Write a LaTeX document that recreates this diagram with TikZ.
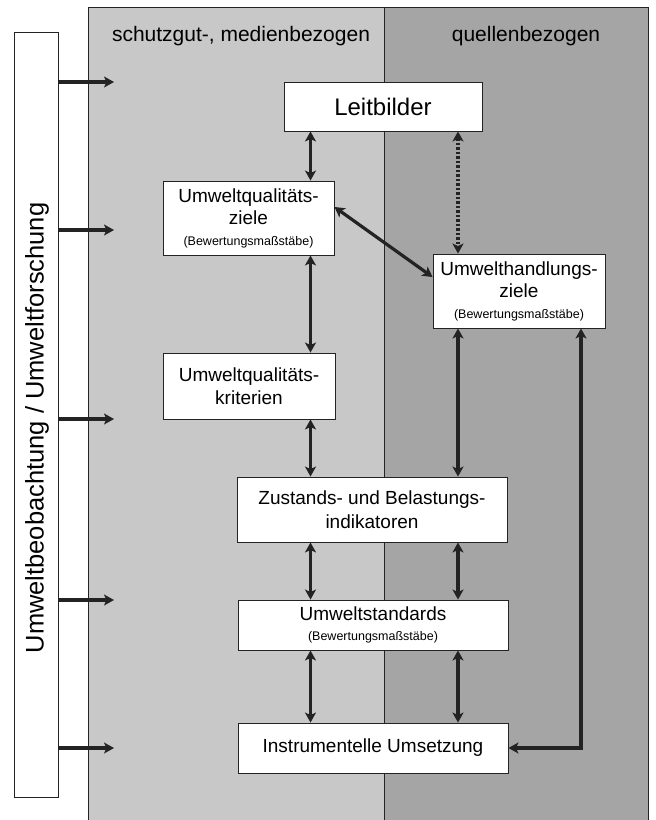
\documentclass[tikz,border=0pt]{standalone}
\usepackage{fontspec}
\setmainfont{Liberation Sans}
\usetikzlibrary{arrows.meta, calc}
\definecolor{panellight}{RGB}{200, 200, 200}
\definecolor{paneldark}{RGB}{165, 165, 165}
\definecolor{linegray}{RGB}{35, 35, 35}
\newcommand{\boxfont}{\fontsize{19}{22.5}\selectfont}
\newcommand{\notefont}{\fontsize{12.5}{14}\selectfont}
\newcommand{\headfont}{\fontsize{21}{25}\selectfont}
\newcommand{\leitfont}{\fontsize{24}{28}\selectfont}

\begin{document}
\begin{tikzpicture}[
    x=1pt, y=-1pt,
    box/.style={rectangle, draw=linegray, line width=0.9pt, fill=white, align=center, font=\boxfont, inner sep=0pt},
    arrow/.style={-{Stealth[length=10pt, width=11pt, inset=2.5pt]}, line width=3.2pt, draw=linegray},
    dblarrow/.style={{Stealth[length=10pt, width=11pt, inset=2.5pt]}-{Stealth[length=10pt, width=11pt, inset=2.5pt]}, line width=3.2pt, draw=linegray},
    dotarrow/.style={dblarrow, dash pattern=on 2.5pt off 2pt}
]
    \useasboundingbox (0,0) rectangle (656,820);

    % Background panels
    \fill[panellight] (88,7) rectangle (384,830);
    \fill[paneldark] (384,7) rectangle (648,830);
    \draw[linegray, line width=0.9pt] (88,830) -- (88,7) -- (648,7) -- (648,830);
    \draw[linegray, line width=0.9pt] (384,7) -- (384,830);

    \node[font=\headfont, anchor=base] (hleft) at (241,41) {schutzgut-, medienbezogen};
    \node[font=\headfont, anchor=base] (hright) at (526,41) {quellenbezogen};

    % Observation bar
    \node[box, minimum width=44, minimum height=765] (obs) at (36,414.5) {};
    \node[rotate=90, font=\fontsize{25.5}{30}\selectfont] (obslabel) at (37,428) {Umweltbeobachtung / Umweltforschung};

    \foreach \y [count=\i] in {82,230,419,600,748} {
        \coordinate (in\i) at (114,\y);
        \draw[arrow] (obs.east |- in\i) -- (in\i);
    }

    % Boxes
    \node[box, minimum width=198, minimum height=49, font=\leitfont] (leit) at (383,106.5) {Leitbilder};
    \node[box, minimum width=171, minimum height=74] (uqz) at (248.5,218) {Umweltqualitäts-\\ziele\\[-2pt]{\notefont(Bewertungsmaßstäbe)}};
    \node[box, minimum width=172, minimum height=74] (uhz) at (519,291) {Umwelthandlungs-\\ziele\\[-2pt]{\notefont(Bewertungsmaßstäbe)}};
    \node[box, minimum width=172, minimum height=66] (uqk) at (249,386) {Umweltqualitäts-\\kriterien};
    \node[box, minimum width=270, minimum height=65] (zbi) at (372,509.5) {Zustands- und Belastungs-\\[2pt]indikatoren};
    \node[box, minimum width=270, minimum height=50] (ust) at (373,625) {Umweltstandards\\[-3pt]{\notefont(Bewertungsmaßstäbe)}};
    \node[box, minimum width=270, minimum height=50] (ium) at (373,748) {Instrumentelle Umsetzung};

    % Connectors
    \coordinate (colA) at (310.5,0);
    \coordinate (colB) at (458,0);
    \coordinate (colC) at (581,0);

    \draw[dblarrow] (leit.south -| colA) -- (uqz.north -| colA);
    \draw[dotarrow] (leit.south -| colB) -- (uhz.north -| colB);
    \draw[dblarrow] ([yshift=11pt]uqz.east) -- ([yshift=14pt]uhz.west);
    \draw[dblarrow] (uqz.south -| colA) -- (uqk.north -| colA);
    \draw[dblarrow] (uqk.south -| colA) -- (zbi.north -| colA);
    \draw[dblarrow] (uhz.south -| colB) -- (zbi.north -| colB);
    \draw[dblarrow] (zbi.south -| colA) -- (ust.north -| colA);
    \draw[dblarrow] (zbi.south -| colB) -- (ust.north -| colB);
    \draw[dblarrow] (ust.south -| colA) -- (ium.north -| colA);
    \draw[dblarrow] (ust.south -| colB) -- (ium.north -| colB);
    \draw[dblarrow] (uhz.south -| colC) |- (ium.east);

\end{tikzpicture}
\end{document}
